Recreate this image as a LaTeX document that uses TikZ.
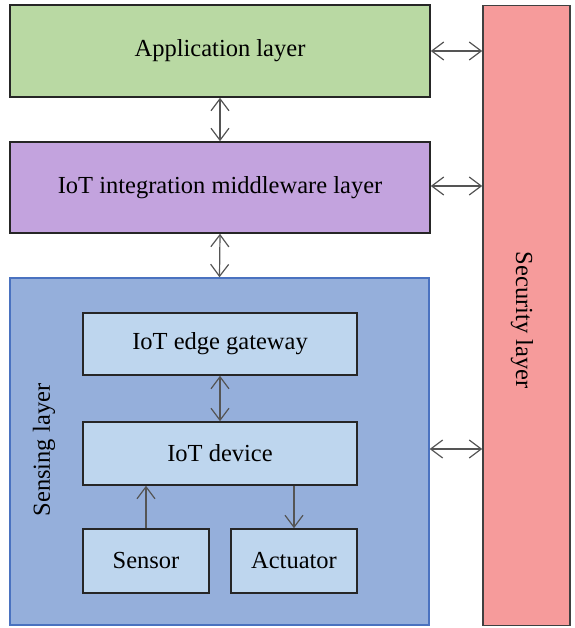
\documentclass[tikz,border=0pt]{standalone}
\usepackage{fontspec}
\setmainfont{Liberation Serif}
\usetikzlibrary{arrows.meta}
\definecolor{appgreen}{HTML}{B9D9A3}
\definecolor{midpurple}{HTML}{C3A3DE}
\definecolor{sensblue}{HTML}{95AFDB}
\definecolor{sensborder}{HTML}{4A72C0}
\definecolor{innerblue}{HTML}{BED6EE}
\definecolor{secred}{HTML}{F69B9B}
\definecolor{arrgray}{HTML}{555555}
\tikzset{
  x=1pt, y=-1pt,
  lblfont/.style={font=\fontsize{24.5}{29}\selectfont},
  layerbox/.style={draw=black!85, line width=1.6pt, rectangle, inner sep=0pt, lblfont},
  innerbox/.style={draw=black!85, line width=1.6pt, rectangle, inner sep=0pt,
    fill=innerblue, lblfont},
  biarrow/.style={draw=arrgray, line width=1.2pt,
    {Straight Barb[length=12pt,width=18pt]}-{Straight Barb[length=12pt,width=18pt]}},
  onearrow/.style={draw=arrgray, line width=1.2pt,
    -{Straight Barb[length=12pt,width=18pt]}},
}
\begin{document}
\begin{tikzpicture}
\useasboundingbox (0,0) rectangle (574,628);
\node[layerbox, fill=appgreen, minimum width=420pt, minimum height=92pt] (app) at (220,51) {Application layer};
\node[layerbox, fill=midpurple, minimum width=420pt, minimum height=91pt] (mid) at (220,187.5) {IoT integration middleware layer};
\node[rectangle, draw=sensborder, line width=1.4pt, fill=sensblue, minimum width=419pt, minimum height=347pt, inner sep=0pt] (sens) at (219.5,451.5) {};
\node[layerbox, fill=secred, draw=black!75, minimum width=87pt, minimum height=620pt] (sec) at (526.5,315.5) {};
\node[rotate=-90, lblfont] (seclabel) at (522,320) {Security layer};
\node[rotate=90, lblfont] (senslabel) at (44,450) {Sensing layer};
\node[innerbox, minimum width=274pt, minimum height=62pt] (gw) at (220,344) {IoT edge gateway};
\node[innerbox, minimum width=274pt, minimum height=63pt] (dev) at (220,453.5) {IoT device};
\node[innerbox, minimum width=126pt, minimum height=64pt] (sensor) at (146,561) {Sensor};
\node[innerbox, minimum width=126pt, minimum height=64pt] (act) at (294,561) {Actuator};
\draw[biarrow] (app.south) -- (mid.north);
\draw[biarrow] (mid.south) -- (sens.north);
\draw[biarrow] (gw.south) -- (dev.north);
\draw[onearrow] (sensor.north) -- (sensor.north |- dev.south);
\draw[onearrow] (act.north |- dev.south) -- (act.north);
\draw[biarrow] (app.east) -- (app.east -| sec.west);
\draw[biarrow] ([yshift=1.5pt]mid.east) -- ([yshift=1.5pt]mid.east -| sec.west);
\draw[biarrow] ([yshift=2.5pt]sens.east) -- ([yshift=2.5pt]sens.east -| sec.west);
\end{tikzpicture}
\end{document}
